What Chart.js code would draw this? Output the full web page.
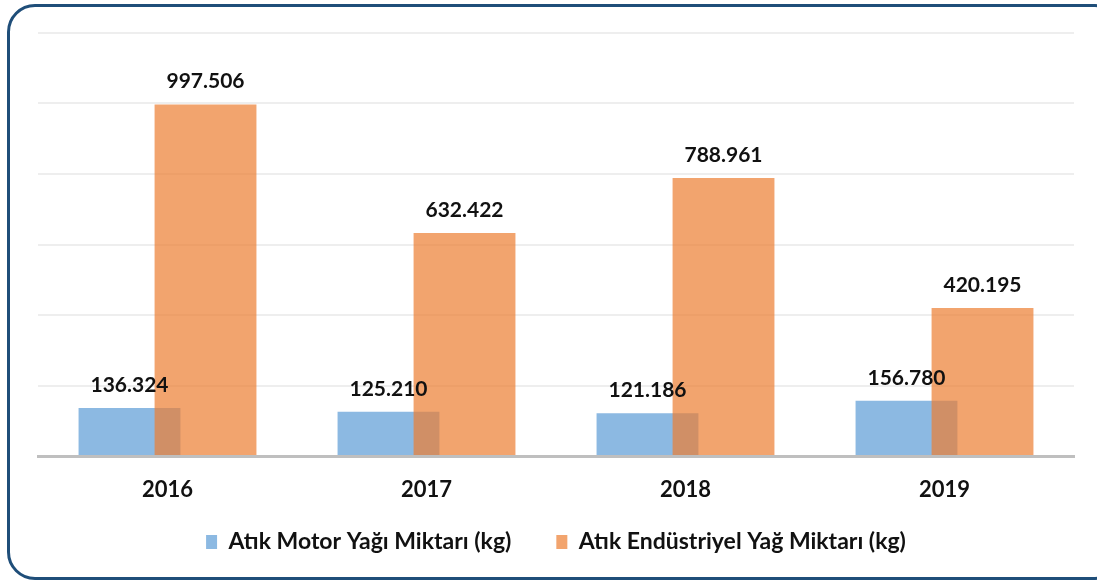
<!DOCTYPE html>
<html>
<head>
<meta charset="utf-8">
<script src="https://cdn.jsdelivr.net/npm/chart.js@4/dist/chart.umd.min.js"></script>
<style>
  html, body { margin:0; padding:0; background:#ffffff; overflow:hidden; }
  #wrap { position:relative; width:1097px; height:581px; }
  #frame { position:absolute; left:7px; top:4px; width:1110px; height:570px; border:3px solid #1F4E79; border-radius:28px; pointer-events:none; }
  canvas { position:absolute; left:0; top:0; }
</style>
</head>
<body>
<div id="wrap">
  <canvas id="c" width="1097" height="581"></canvas>
  <div id="frame"></div>
</div>
<script>
const categories = ['2016', '2017', '2018', '2019'];
const motorOil = [136324, 125210, 121186, 156780];
const industrialOil = [997506, 632422, 788961, 420195];
const seriesNames = ['Atık Motor Yağı Miktarı (kg)', 'Atık Endüstriyel Yağ Miktarı (kg)'];

const FONT = 'Lato, "Open Sans", sans-serif';
function fmt(v) { return String(v).replace(/\B(?=(\d{3})+(?!\d))/g, '.'); }

// draw the first series underneath the second (overlapping bars)
const drawOrderPlugin = {
  id: 'drawOrder',
  beforeDatasetsDraw(chart) {
    const meta = chart.getDatasetMeta(0);
    chart.ctx.save();
    meta.controller.draw();
    chart.ctx.restore();
  },
  beforeDatasetDraw(chart, args) {
    if (args.index === 0) return false;
  }
};

// let the x tick labels extend below the (compact) x scale box without clipping
const labelRoomPlugin = {
  id: 'labelRoom',
  afterLayout(chart) {
    const x = chart.scales.x;
    x.bottom = x.top + 60;
  }
};

const labelPlugin = {
  id: 'valueLabels',
  afterDatasetsDraw(chart) {
    const ctx = chart.ctx;
    ctx.save();
    ctx.font = 'bold 21px ' + FONT;
    ctx.fillStyle = '#111111';
    ctx.textAlign = 'center';
    ctx.textBaseline = 'alphabetic';
    chart.data.datasets.forEach((ds, di) => {
      const meta = chart.getDatasetMeta(di);
      meta.data.forEach((bar, i) => {
        ctx.fillText(fmt(ds.data[i]), bar.x, bar.y - 16);
      });
    });
    ctx.restore();
  }
};

new Chart(document.getElementById('c'), {
  type: 'bar',
  data: {
    labels: categories,
    datasets: [
      { label: seriesNames[0], data: motorOil, backgroundColor: 'rgba(91,155,213,0.7)', borderWidth: 0 },
      { label: seriesNames[1], data: industrialOil, backgroundColor: 'rgba(237,125,49,0.7)', borderWidth: 0 }
    ]
  },
  options: {
    responsive: false,
    animation: false,
    devicePixelRatio: 1,
    layout: { padding: { left: 38, right: 23, top: 33, bottom: 17.5 } },
    datasets: { bar: { categoryPercentage: 0.587, barPercentage: 1.34 } },
    plugins: {
      legend: {
        position: 'bottom',
        labels: {
          font: { family: FONT, size: 23, weight: 'bold' },
          color: '#111111',
          boxWidth: 11,
          boxHeight: 14,
          padding: 45
        }
      },
      tooltip: { enabled: false }
    },
    scales: {
      x: {
        grid: { display: false, drawTicks: false },
        border: { display: true, color: '#bfbfbf', width: 3 },
        ticks: { font: { family: FONT, size: 22, weight: 'bold' }, color: '#111111', padding: 21 },
        afterFit: (scale) => { scale.height = 29.5; }
      },
      y: {
        min: 0, max: 1200000,
        ticks: { display: false, stepSize: 200000 },
        border: { display: false },
        grid: { color: '#eeeeee', lineWidth: 2, drawTicks: false }
      }
    }
  },
  plugins: [drawOrderPlugin, labelRoomPlugin, labelPlugin]
});
</script>
</body>
</html>
